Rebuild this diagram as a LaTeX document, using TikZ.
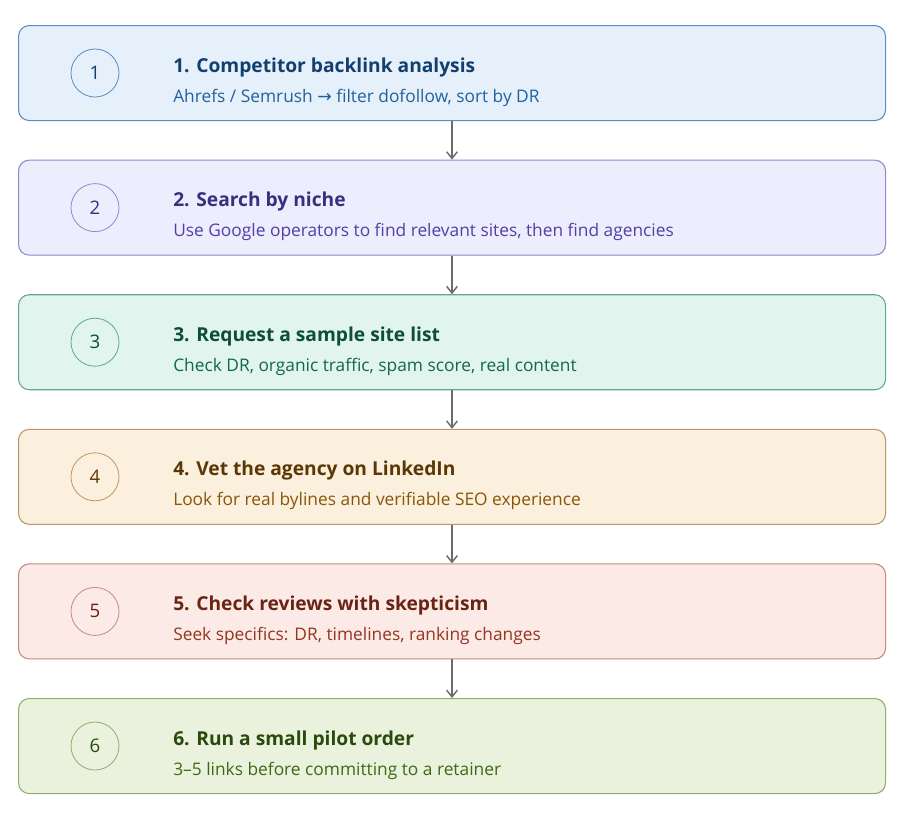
\documentclass[tikz,border=0pt]{standalone}
\usepackage{fontspec}
\setmainfont{Open Sans}
\newfontfamily\symf{DejaVu Sans}
\usetikzlibrary{arrows.meta}
\begin{document}
\begin{tikzpicture}[x=0.75pt,y=-0.75pt,
 circ/.style={circle, draw, line width=0.6pt, minimum size=36pt, inner sep=0pt, font=\fontsize{14}{16}\selectfont},
 ttl/.style={anchor=base west, inner sep=0pt, font=\fontsize{14.4}{16}\selectfont\bfseries},
 sub/.style={anchor=base west, inner sep=0pt, font=\fontsize{13}{15}\selectfont},
 arr/.style={-{Straight Barb[length=5pt,width=8pt]}, draw=gray!85!black, line width=1.1pt}]
\useasboundingbox (0,0) rectangle (900,815);
\definecolor{f1}{HTML}{E5F0FB}\definecolor{d1}{HTML}{5A8CC0}\definecolor{t1}{HTML}{123F6E}\definecolor{s1}{HTML}{23619E}
\definecolor{f2}{HTML}{EEEDFD}\definecolor{d2}{HTML}{8E88CF}\definecolor{t2}{HTML}{3A2E7E}\definecolor{s2}{HTML}{5040A8}
\definecolor{f3}{HTML}{E2F4EE}\definecolor{d3}{HTML}{5EA88C}\definecolor{t3}{HTML}{0D4D3A}\definecolor{s3}{HTML}{11684C}
\definecolor{f4}{HTML}{FBEFDD}\definecolor{d4}{HTML}{BE9763}\definecolor{t4}{HTML}{5A3705}\definecolor{s4}{HTML}{8A5608}
\definecolor{f5}{HTML}{FBEAE6}\definecolor{d5}{HTML}{C68A7E}\definecolor{t5}{HTML}{6A2414}\definecolor{s5}{HTML}{943620}
\definecolor{f6}{HTML}{EAF2DE}\definecolor{d6}{HTML}{8DAE6E}\definecolor{t6}{HTML}{2A4A0C}\definecolor{s6}{HTML}{3D6A12}
\foreach \i/\tt/\ss in {
 1/{1. Competitor backlink analysis}/{Ahrefs / Semrush {\symf →} filter dofollow, sort by DR},
 2/{2. Search by niche}/{Use Google operators to find relevant sites, then find agencies},
 3/{3. Request a sample site list}/{Check DR, organic traffic, spam score, real content},
 4/{4. Vet the agency on LinkedIn}/{Look for real bylines and verifiable SEO experience},
 5/{5. Check reviews with skepticism}/{Seek specifics: DR, timelines, ranking changes},
 6/{6. Run a small pilot order}/{3–5 links before committing to a retainer}}{
 \pgfmathsetmacro\y{25+134.6*(\i-1)}
 \node[draw=d\i, fill=f\i, rounded corners=8pt, line width=0.8pt, minimum width=650.25pt, minimum height=71.25pt, inner sep=0pt, anchor=north west] (b\i) at (18,\y) {};
 \node[circ, draw=d\i, text=t\i] (c\i) at (95,\y+48) {\i};
 \node[ttl, text=t\i] (t\i) at (173,\y+47) {\tt};
 \node[sub, text=s\i] (s\i) at (173,\y+77) {\ss};
}
\foreach \i/\j in {1/2,2/3,3/4,4/5,5/6}{
 \draw[arr] (b\i.south -| 452,0) -- (b\j.north -| 452,0);
}
\end{tikzpicture}
\end{document}
